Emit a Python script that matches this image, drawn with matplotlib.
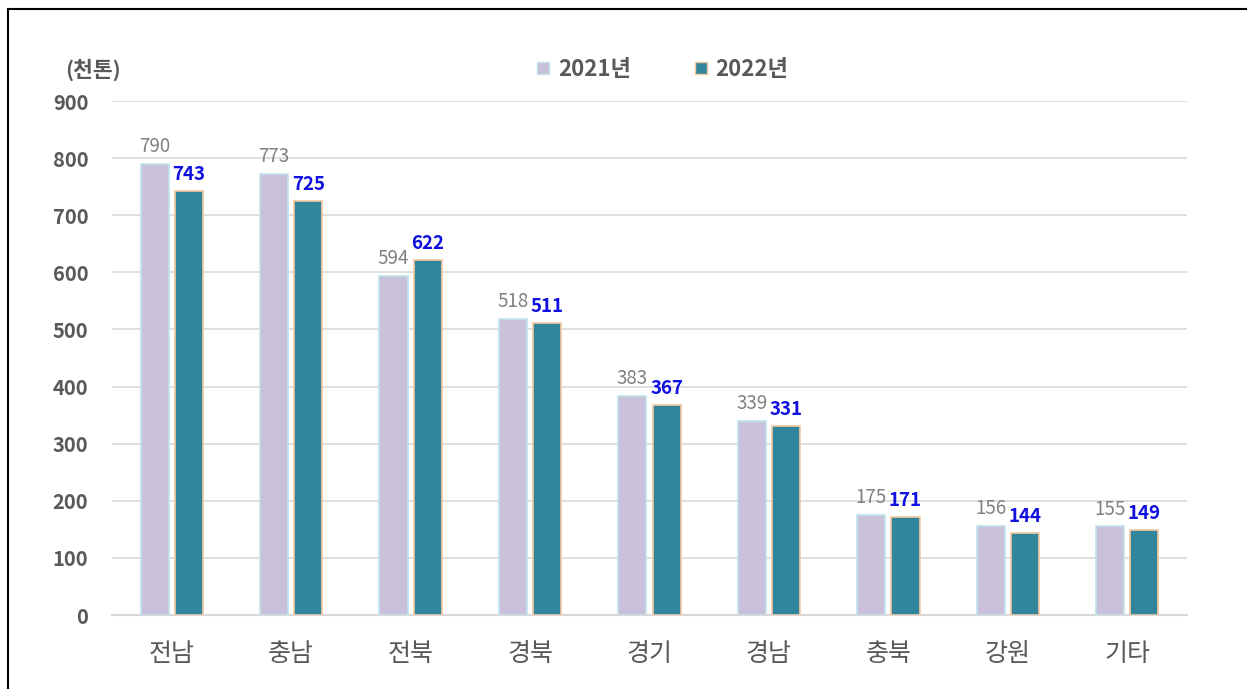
import numpy as np
import matplotlib.pyplot as plt
from matplotlib.lines import Line2D

plt.rcParams['font.family'] = ['Noto Sans CJK KR', 'DejaVu Sans']

regions = ['전남', '충남', '전북', '경북', '경기', '경남', '충북', '강원', '기타']
vals_2021 = [790, 773, 594, 518, 383, 339, 175, 156, 155]
vals_2022 = [743, 725, 622, 511, 367, 331, 171, 144, 149]
yticks = [0, 100, 200, 300, 400, 500, 600, 700, 800, 900]

c21 = '#C9C0D9'
c22 = '#31859C'
txt = '#595959'

fig = plt.figure(figsize=(12.47, 6.89), dpi=100)
ax = fig.add_axes([112 / 1247, 1 - 615 / 689, (1187 - 112) / 1247, (615 - 101) / 689])

x = np.arange(len(regions))
w = 0.235
off = 0.143
ax.bar(x - off, vals_2021, w, color=c21, edgecolor='#BFE3EC', linewidth=1.2, zorder=3)
ax.bar(x + off, vals_2022, w, color=c22, edgecolor='#F5C8A0', linewidth=1.2, zorder=3)

for xi, v in zip(x, vals_2021):
    ax.annotate(str(v), (xi - off, v), xytext=(0, 5), textcoords='offset points',
                ha='center', va='bottom', fontsize=13.5, color='#808080')
for xi, v in zip(x, vals_2022):
    ax.annotate(str(v), (xi + off, v), xytext=(0, 5), textcoords='offset points',
                ha='center', va='bottom', fontsize=13.5, color='#1010E0', fontweight='bold')

ax.set_xlim(-0.5, len(regions) - 0.5)
ax.set_ylim(0, 900)
ax.set_yticks(yticks)
ax.set_yticklabels([str(t) for t in yticks], fontsize=14.5, fontweight='bold', color=txt)
ax.set_xticks(x)
ax.set_xticklabels(regions, fontsize=18, color=txt)
ax.tick_params(axis='y', length=0, pad=17)
ax.tick_params(axis='x', length=0, pad=19)
ax.grid(axis='y', color='#D9D9D9', linewidth=1.2, zorder=0)
for s in ['top', 'right', 'left']:
    ax.spines[s].set_visible(False)
ax.spines['bottom'].set_color('#D9D9D9')
ax.spines['bottom'].set_linewidth(1.5)

fig.text(65 / 1247, 1 - 70 / 689, '(천톤)', fontsize=15.5, fontweight='bold', color=txt,
         ha='left', va='center')

handles = [Line2D([0], [0], marker='s', linestyle='', markersize=9, markerfacecolor=c21,
                  markeredgecolor='#BFE3EC'),
           Line2D([0], [0], marker='s', linestyle='', markersize=9, markerfacecolor=c22,
                  markeredgecolor='#F5C8A0')]
leg = fig.legend(handles, ['2021년', '2022년'], loc='center', bbox_to_anchor=(662 / 1247, 1 - 69 / 689),
                 ncol=2, frameon=False, handlelength=0.7, handletextpad=0.3, columnspacing=2.8,
                 prop={'size': 16, 'weight': 'bold'})
for t in leg.get_texts():
    t.set_color(txt)

# outer frame (only top and left visible in the source)
fig.add_artist(Line2D([8 / 1247, 8 / 1247], [0, 1 - 9 / 689], color='black', linewidth=1.5,
                      transform=fig.transFigure))
fig.add_artist(Line2D([8 / 1247, 1], [1 - 9 / 689, 1 - 9 / 689], color='black', linewidth=1.5,
                      transform=fig.transFigure))

fig.savefig('out.png', dpi=100)
